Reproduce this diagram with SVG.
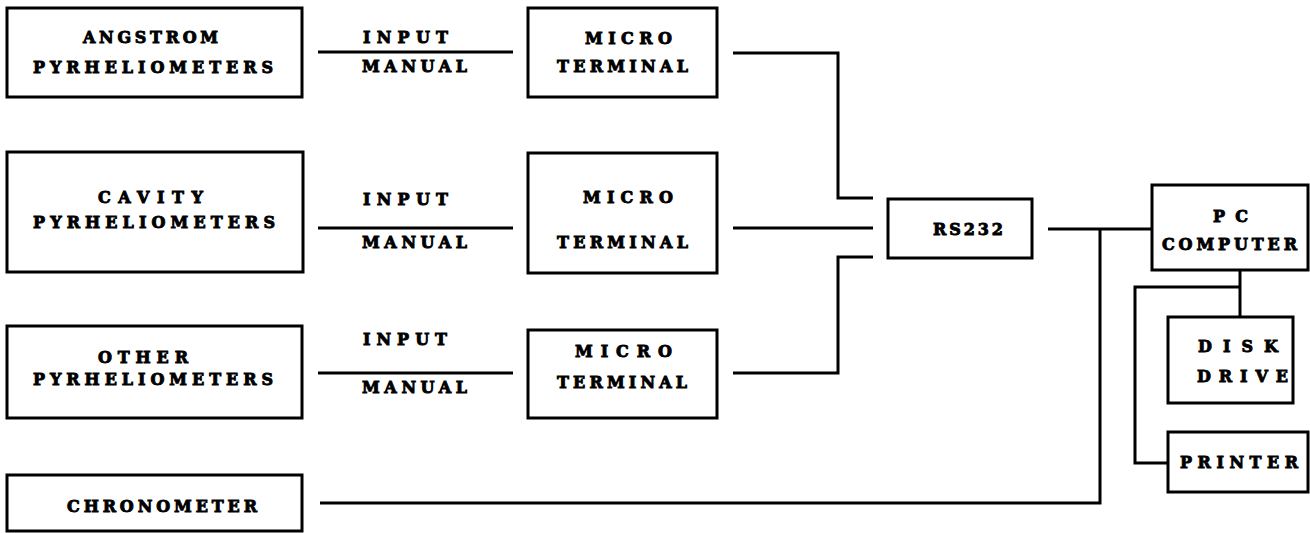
<svg xmlns="http://www.w3.org/2000/svg" width="1310" height="533" viewBox="0 0 1310 533">
<style>
.box{fill:#fff;stroke:#000;stroke-width:3}
.ln{fill:none;stroke:#000;stroke-width:3}
text{font-family:"DejaVu Serif","Liberation Serif",serif;font-weight:bold;font-size:16px;fill:#000;stroke:#000;stroke-width:0.9}
</style>
<rect width="1310" height="533" fill="#fff"/>
<g id="connectors">
<line class="ln" x1="318" y1="52" x2="513" y2="52"/>
<line class="ln" x1="318" y1="228" x2="513" y2="228"/>
<line class="ln" x1="318" y1="373" x2="513" y2="373"/>
<polyline class="ln" points="733,53 838,53 838,198 873,198"/>
<line class="ln" x1="733" y1="228" x2="873" y2="228"/>
<polyline class="ln" points="733,373 838,373 838,257 873,257"/>
<line class="ln" x1="1048" y1="229" x2="1152" y2="229"/>
<polyline class="ln" points="320,503 1100,503 1100,229"/>
<line class="ln" x1="1240" y1="270" x2="1240" y2="317"/>
<polyline class="ln" points="1240,287 1135,287 1135,463 1168,463"/>
</g>
<g id="angstrom">
<rect class="box" x="7" y="8" width="295" height="89"/>
<text x="83" y="43" textLength="135" lengthAdjust="spacing">ANGSTROM</text>
<text x="33" y="73" textLength="240" lengthAdjust="spacing">PYRHELIOMETERS</text>
</g>
<g id="input1">
<text x="363" y="43" textLength="85" lengthAdjust="spacing">INPUT</text>
<text x="362" y="72" textLength="105" lengthAdjust="spacing">MANUAL</text>
</g>
<g id="micro1">
<rect class="box" x="528" y="8" width="189" height="89"/>
<text x="585" y="44" textLength="87" lengthAdjust="spacing">MICRO</text>
<text x="557" y="72" textLength="131" lengthAdjust="spacing">TERMINAL</text>
</g>
<g id="cavity">
<rect class="box" x="7" y="152" width="296" height="120"/>
<text x="98" y="203" textLength="105" lengthAdjust="spacing">CAVITY</text>
<text x="33" y="228" textLength="242" lengthAdjust="spacing">PYRHELIOMETERS</text>
</g>
<g id="input2">
<text x="363" y="205" textLength="85" lengthAdjust="spacing">INPUT</text>
<text x="362" y="248" textLength="105" lengthAdjust="spacing">MANUAL</text>
</g>
<g id="micro2">
<rect class="box" x="528" y="153" width="189" height="120"/>
<text x="583" y="203" textLength="90" lengthAdjust="spacing">MICRO</text>
<text x="557" y="248" textLength="131" lengthAdjust="spacing">TERMINAL</text>
</g>
<g id="other">
<rect class="box" x="7" y="326" width="295" height="92"/>
<text x="98" y="363" textLength="90" lengthAdjust="spacing">OTHER</text>
<text x="33" y="385" textLength="240" lengthAdjust="spacing">PYRHELIOMETERS</text>
</g>
<g id="input3">
<text x="363" y="345" textLength="84" lengthAdjust="spacing">INPUT</text>
<text x="362" y="393" textLength="105" lengthAdjust="spacing">MANUAL</text>
</g>
<g id="micro3">
<rect class="box" x="528" y="330" width="189" height="88"/>
<text x="575" y="357" textLength="97" lengthAdjust="spacing">MICRO</text>
<text x="557" y="388" textLength="130" lengthAdjust="spacing">TERMINAL</text>
</g>
<g id="chronometer">
<rect class="box" x="7" y="475" width="295" height="56"/>
<text x="67" y="512" textLength="190" lengthAdjust="spacing">CHRONOMETER</text>
</g>
<g id="rs232">
<rect class="box" x="888" y="199" width="144" height="59"/>
<text x="933" y="235" textLength="70" lengthAdjust="spacing">RS232</text>
</g>
<g id="pc">
<rect class="box" x="1152" y="185" width="156" height="85"/>
<text x="1213" y="222" textLength="35" lengthAdjust="spacing">PC</text>
<text x="1162" y="250" textLength="135" lengthAdjust="spacing">COMPUTER</text>
</g>
<g id="disk">
<rect class="box" x="1168" y="317" width="125" height="86"/>
<text x="1198" y="352" textLength="80" lengthAdjust="spacing">DISK</text>
<text x="1197" y="382" textLength="91" lengthAdjust="spacing">DRIVE</text>
</g>
<g id="printer">
<rect class="box" x="1168" y="432" width="140" height="60"/>
<text x="1180" y="468" textLength="118" lengthAdjust="spacing">PRINTER</text>
</g>
</svg>
